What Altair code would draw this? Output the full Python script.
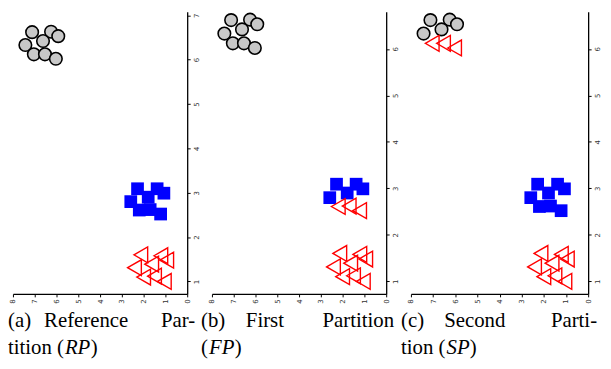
import altair as alt
import pandas as pd

# ---- point coordinates ----
circ_x = [7.12, 6.25, 5.92, 6.62, 7.43, 7.04, 6.53, 6.03]
circ_y = [6.62, 6.63, 6.53, 6.42, 6.33, 6.12, 6.12, 6.02]
sq_x = [2.28, 1.38, 1.07, 1.79, 2.59, 2.20, 1.70, 1.22]
sq_y = [3.09, 3.09, 2.99, 2.90, 2.80, 2.61, 2.62, 2.52]
tri_x = [2.13, 1.21, 0.94, 1.63, 2.42, 2.00, 1.50, 1.05]
tri_y = [1.60, 1.58, 1.48, 1.39, 1.31, 1.10, 1.12, 1.00]

# ---- cluster label of every point in each partition (c=circle, s=square, t=triangle) ----
rp_labels = ["c", "c", "c", "c", "c", "c", "c", "c",
             "s", "s", "s", "s", "s", "s", "s", "s",
             "t", "t", "t", "t", "t", "t", "t", "t"]
fp_labels = ["c", "c", "c", "c", "c", "c", "c", "c",
             "s", "s", "s", "s", "s", "t", "t", "t",
             "t", "t", "t", "t", "t", "t", "t", "t"]
sp_labels = ["c", "c", "c", "c", "c", "t", "t", "t",
             "s", "s", "s", "s", "s", "s", "s", "s",
             "t", "t", "t", "t", "t", "t", "t", "t"]

x_ticks = [0, 1, 2, 3, 4, 5, 6, 7, 8]
y_ticks_a = [1, 2, 3, 4, 5, 6, 7]
y_ticks_bc = [1, 2, 3, 4, 5, 6]

all_x = circ_x + sq_x + tri_x
all_y = circ_y + sq_y + tri_y

SERIF = "Liberation Serif"
CAP_SIZE = 21
H = 285
LINE1 = 318
LINE2 = 346


def caption_piece(text, x, y, align, italic=False):
    return alt.Chart(pd.DataFrame({"t": [text]})).mark_text(
        align=align, baseline="alphabetic", font=SERIF, fontSize=CAP_SIZE,
        fontStyle="italic" if italic else "normal", color="black"
    ).encode(x=alt.value(x), y=alt.value(y), text="t:N")


def panel(labels, width, ydom, yticks, caption):
    df = pd.DataFrame({"x": all_x, "y": all_y, "k": labels})
    xenc = alt.X("x:Q",
                 scale=alt.Scale(domain=[0, 8], reverse=True, nice=False, zero=False),
                 axis=alt.Axis(values=x_ticks, title=None, orient="bottom"))
    yenc = alt.Y("y:Q",
                 scale=alt.Scale(domain=ydom, nice=False, zero=False),
                 axis=alt.Axis(values=yticks, title=None, orient="right"))
    base = alt.Chart(df).encode(x=xenc, y=yenc)
    circles = base.transform_filter(alt.datum.k == "c").mark_circle(
        size=160, fill="#c8c8c8", stroke="black", strokeWidth=1.6, opacity=1)
    squares = base.transform_filter(alt.datum.k == "s").mark_square(
        size=165, color="#0000ff", opacity=1)
    tris = base.transform_filter(alt.datum.k == "t").mark_point(
        shape="triangle-left", size=256, color="#ff0000", strokeWidth=1.4, opacity=1)
    texts = [caption_piece(*c) for c in caption]
    return alt.layer(circles, squares, tris, *texts).properties(width=width, height=H)


cap_a = [("(a)", -5, LINE1, "left"), ("Reference", 74, LINE1, "center"),
         ("Par-", 184, LINE1, "right"),
         ("tition (", -5, LINE2, "left"), ("RP", 52.5, LINE2, "left", True),
         (")", 78.5, LINE2, "left")]
cap_b = [("(b)", -11, LINE1, "left"), ("First", 53.5, LINE1, "center"),
         ("Partition", 184, LINE1, "right"),
         ("(", -11, LINE2, "left"), ("FP", -3, LINE2, "left", True),
         (")", 23, LINE2, "left")]
cap_c = [("(c)", -10, LINE1, "left"), ("Second", 64.5, LINE1, "center"),
         ("Parti-", 188, LINE1, "right"),
         ("tion (", -10, LINE2, "left"), ("SP", 36, LINE2, "left", True),
         (")", 59.5, LINE2, "left")]

pa = panel(rp_labels, 176, [0.72, 7.08], y_ticks_a, cap_a)
pb = panel(fp_labels, 176, [0.73, 6.80], y_ticks_bc, cap_b)
pc = panel(sp_labels, 179, [0.73, 6.80], y_ticks_bc, cap_c)

chart = alt.hconcat(pa, pb, pc, spacing=25, bounds="flush").properties(
    padding={"left": 0, "top": 0, "right": 3, "bottom": 0}
).configure_view(strokeWidth=0).configure_axis(
    grid=False, domainColor="black", domainWidth=1.3, tickColor="black",
    tickSize=3, tickWidth=1, labelFontSize=7, labelAngle=270,
    labelColor="#333333", labelPadding=2, labelFont="DejaVu Sans"
)

chart.save("out.html", embed_options={"renderer": "svg", "actions": False})
